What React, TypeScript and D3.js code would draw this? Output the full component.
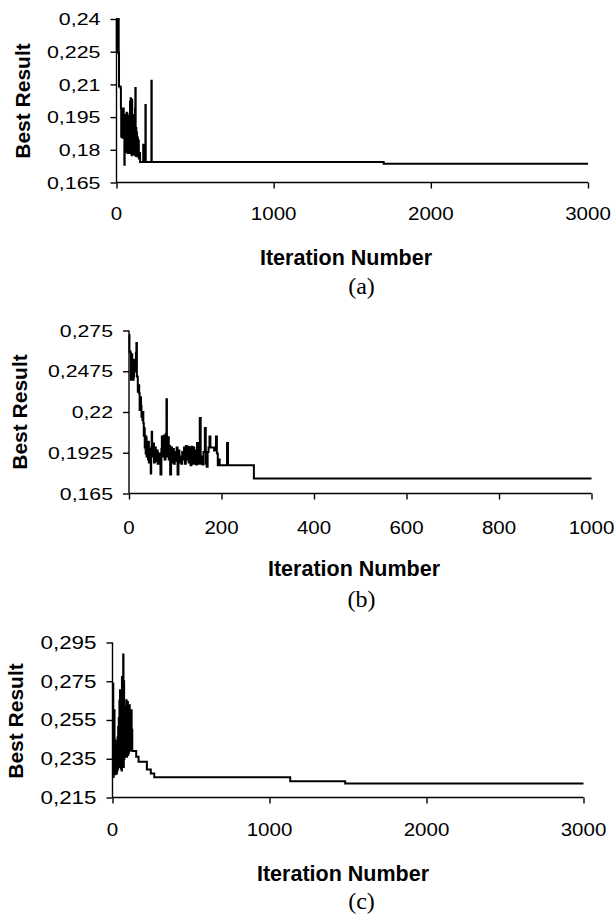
import React, { useEffect, useRef } from "react";
import * as d3 from "d3";

// ---------- DATA ----------
const seriesA: [number, number][] = [
  [0, 0.2245], [2, 0.24], [12, 0.24], [14, 0.2245], [16, 0.209], [26, 0.2084],
  [28, 0.1991], [30, 0.186], [32, 0.1985], [34, 0.187], [36, 0.1975], [38, 0.1855],
  [40, 0.196], [42, 0.188], [44, 0.199], [46, 0.186], [50, 0.1731], [52, 0.194],
  [54, 0.183], [56, 0.196], [58, 0.18], [60, 0.195], [62, 0.179], [64, 0.197],
  [66, 0.181], [68, 0.1965], [70, 0.1785], [72, 0.193], [74, 0.18], [76, 0.1955],
  [78, 0.179], [80, 0.19], [82, 0.1785], [86, 0.202], [88, 0.18], [90, 0.2037],
  [92, 0.179], [94, 0.198], [96, 0.1775], [98, 0.203], [100, 0.18], [102, 0.195],
  [104, 0.178], [106, 0.192], [108, 0.179], [110, 0.196], [112, 0.18], [114, 0.194],
  [116, 0.1775], [118, 0.199], [120, 0.2083], [122, 0.18], [124, 0.19], [126, 0.177],
  [128, 0.188], [130, 0.1775], [132, 0.186], [134, 0.177], [136, 0.185], [138, 0.178],
  [140, 0.184], [142, 0.176], [146, 0.1785], [150, 0.1744], [168, 0.1744], [170, 0.1823],
  [172, 0.1744], [182, 0.1744], [184, 0.2006], [186, 0.1744], [220, 0.1744], [222, 0.2117],
  [224, 0.1744], [1700, 0.1736], [3000, 0.1736],
];

const seriesB: [number, number][] = [
  [0, 0.272], [1, 0.2608], [3, 0.26], [4, 0.2417], [6, 0.259], [7, 0.243], [8, 0.2417],
  [10, 0.244], [11, 0.2552], [13, 0.2473], [15, 0.26], [16, 0.2665], [17, 0.244],
  [19, 0.2337], [21, 0.238], [22, 0.2327], [23, 0.2214], [25, 0.23], [26, 0.224],
  [27, 0.2168], [29, 0.2146], [30, 0.22], [31, 0.2124], [32, 0.204], [33, 0.209],
  [34, 0.196], [35, 0.204], [36, 0.192], [37, 0.203], [38, 0.19], [40, 0.1988],
  [41, 0.188], [42, 0.2], [43, 0.186], [45, 0.195], [47, 0.1785], [48, 0.196],
  [49, 0.2066], [50, 0.19], [52, 0.1988], [54, 0.186], [56, 0.196], [58, 0.187],
  [60, 0.194], [62, 0.185], [64, 0.192], [66, 0.186], [68, 0.1779], [70, 0.195],
  [71, 0.2035], [73, 0.19], [75, 0.204], [77, 0.188], [79, 0.205], [81, 0.2286],
  [82, 0.19], [84, 0.203], [86, 0.188], [88, 0.197], [89, 0.1779], [91, 0.196],
  [93, 0.186], [95, 0.195], [97, 0.185], [99, 0.193], [101, 0.187], [103, 0.196],
  [105, 0.1779], [107, 0.194], [109, 0.186], [111, 0.19], [113, 0.185], [115, 0.193],
  [117, 0.188], [119, 0.196], [121, 0.185], [123, 0.197], [125, 0.188], [127, 0.1965],
  [129, 0.186], [131, 0.196], [133, 0.184], [135, 0.1965], [137, 0.185], [139, 0.196],
  [141, 0.185], [143, 0.194], [145, 0.1845], [147, 0.199], [149, 0.185], [151, 0.194],
  [153, 0.2159], [155, 0.185], [157, 0.19], [159, 0.1845], [161, 0.193], [164, 0.2092],
  [166, 0.185], [168, 0.183], [170, 0.193], [172, 0.196], [174, 0.2035], [176, 0.196],
  [180, 0.196], [184, 0.194], [188, 0.2035], [190, 0.192], [192, 0.1841], [194, 0.188],
  [196, 0.1841], [210, 0.1841], [212, 0.199], [214, 0.1841], [265, 0.1841], [270, 0.1751],
  [1000, 0.1751],
];

const seriesC: [number, number][] = [
  [0, 0.2256], [3, 0.2738], [5, 0.2256], [7, 0.2446], [9, 0.23], [11, 0.26], [13, 0.228],
  [15, 0.2446], [17, 0.227], [19, 0.242], [21, 0.228], [24, 0.244], [26, 0.2274],
  [28, 0.24], [30, 0.229], [32, 0.246], [34, 0.23], [36, 0.2514], [38, 0.238],
  [40, 0.256], [42, 0.231], [44, 0.265], [46, 0.232], [48, 0.2704], [50, 0.2308],
  [52, 0.26], [54, 0.23], [56, 0.268], [58, 0.229], [60, 0.2772], [62, 0.231],
  [64, 0.27], [66, 0.232], [68, 0.2888], [70, 0.2308], [72, 0.275], [74, 0.235],
  [76, 0.26], [78, 0.2377], [80, 0.256], [82, 0.236], [84, 0.262], [86, 0.237],
  [88, 0.2652], [90, 0.236], [92, 0.26], [94, 0.2377], [96, 0.2643], [98, 0.237],
  [100, 0.262], [102, 0.238], [104, 0.26], [106, 0.239], [108, 0.2626], [110, 0.24],
  [112, 0.258], [114, 0.2394], [116, 0.256], [118, 0.2394], [120, 0.26], [122, 0.2394],
  [124, 0.25], [126, 0.239], [151, 0.236], [166, 0.2334], [219, 0.2294], [244, 0.2274],
  [266, 0.2255], [1132, 0.2234], [1482, 0.2222], [3000, 0.2222],
];

const yTicksA = [0.165, 0.18, 0.195, 0.21, 0.225, 0.24];
const yTicksB = [0.165, 0.1925, 0.22, 0.2475, 0.275];
const yTicksC = [0.215, 0.235, 0.255, 0.275, 0.295];
const xTicksA = [0, 1000, 2000, 3000];
const xTicksB = [0, 200, 400, 600, 800, 1000];
const xTicksC = [0, 1000, 2000, 3000];
const xLabel = "Iteration Number";
const yLabel = "Best Result";
const captions = ["(a)", "(b)", "(c)"];

// ---------- LAYOUT ----------
const panels = [
  {
    data: seriesA, yTicks: yTicksA, xTicks: xTicksA, caption: captions[0],
    x0: 116.5, x1: 588, yTop: 19, yBot: 182.5, yTickFs: 17, yTickSx: 1.26,
    yLabX: 22, yLabY: 101, xLabX: 346, xLabY: 257, capY: 287, tickLabY: 213,
  },
  {
    data: seriesB, yTicks: yTicksB, xTicks: xTicksB, caption: captions[1],
    x0: 129, x1: 591.5, yTop: 330.5, yBot: 493.5, yTickFs: 17, yTickSx: 1.25,
    yLabX: 19, yLabY: 412, xLabX: 354, xLabY: 568, capY: 600, tickLabY: 527,
  },
  {
    data: seriesC, yTicks: yTicksC, xTicks: xTicksC, caption: captions[2],
    x0: 112.5, x1: 583.5, yTop: 642.5, yBot: 797.5, yTickFs: 17.5, yTickSx: 1.28,
    yLabX: 15, yLabY: 721, xLabX: 343, xLabY: 873.5, capY: 902, tickLabY: 829.5,
  },
];

const SANS = "'Liberation Sans', Arial, Helvetica, sans-serif";
const SERIF = "'Liberation Serif', 'Times New Roman', Times, serif";
const fmt = (v: number) => String(v).replace(".", ",");

export default function App() {
  const ref = useRef<SVGSVGElement>(null);

  useEffect(() => {
    const svg = d3.select(ref.current);
    svg.selectAll("*").remove();

    panels.forEach((p) => {
      const ext = d3.extent(p.xTicks) as [number, number];
      const yExt = d3.extent(p.yTicks) as [number, number];
      const x = d3.scaleLinear().domain(ext).range([p.x0, p.x1]);
      const y = d3.scaleLinear().domain(yExt).range([p.yBot, p.yTop]);
      const g = svg.append("g");

      // y axis
      const ya = g.append("g").attr("transform", `translate(${p.x0},0)`)
        .call(d3.axisLeft(y).tickValues(p.yTicks).tickSize(6).tickSizeOuter(0).tickFormat(() => ""));
      ya.selectAll("path,line").attr("stroke", "#000").attr("stroke-width", 1.4);
      ya.select(".domain").attr("d", `M0,${p.yTop}V${p.yBot}`);

      // x axis
      const xa = g.append("g").attr("transform", `translate(0,${p.yBot})`)
        .call(d3.axisBottom(x).tickValues(p.xTicks).tickSize(6).tickSizeOuter(0).tickFormat(() => ""));
      xa.selectAll("path,line").attr("stroke", "#000").attr("stroke-width", 1.4);
      xa.select(".domain").attr("d", `M${p.x0},0H${p.x1}`);

      // y tick labels (horizontally stretched as in the source figure)
      g.selectAll(".yl").data(p.yTicks).enter().append("text")
        .attr("transform", (d) => `translate(${p.x0 - 16},${y(d)}) scale(${p.yTickSx},1)`)
        .attr("dy", "0.36em")
        .attr("text-anchor", "end")
        .style("font-family", SANS)
        .style("font-size", `${p.yTickFs}px`).text((d) => fmt(d));

      // x tick labels
      g.selectAll(".xl").data(p.xTicks).enter().append("text")
        .attr("transform", (d) => `translate(${x(d)},${p.tickLabY}) scale(1.08,1)`)
        .attr("dy", "0.36em")
        .attr("text-anchor", "middle")
        .style("font-family", SANS)
        .style("font-size", "19px").text((d) => String(d));

      // data line
      const line = d3.line<[number, number]>()
        .x((d) => x(d[0])).y((d) => y(d[1])).curve(d3.curveStepAfter);
      g.append("path").datum(p.data).attr("d", line)
        .attr("fill", "none").attr("stroke", "#000").attr("stroke-width", 2)
        .attr("stroke-linejoin", "miter");

      // axis titles
      g.append("text")
        .attr("transform", `translate(${p.yLabX},${p.yLabY}) rotate(-90)`)
        .attr("dy", "0.36em").attr("text-anchor", "middle")
        .style("font-family", SANS)
        .style("font-weight", "bold").style("font-size", "21px").text(yLabel);
      g.append("text")
        .attr("x", p.xLabX).attr("y", p.xLabY).attr("dy", "0.36em")
        .attr("text-anchor", "middle")
        .style("font-family", SANS)
        .style("font-weight", "bold").style("font-size", "21.5px").text(xLabel);
      g.append("text")
        .attr("x", 361.5).attr("y", p.capY).attr("dy", "0.3em")
        .attr("text-anchor", "middle")
        .style("font-family", SERIF)
        .style("font-size", "24px").text(p.caption);
    });
  }, []);

  return (
    <svg
      ref={ref}
      width={614}
      height={921}
      style={{ position: "absolute", left: 0, top: 0, background: "#fff" }}
    />
  );
}
